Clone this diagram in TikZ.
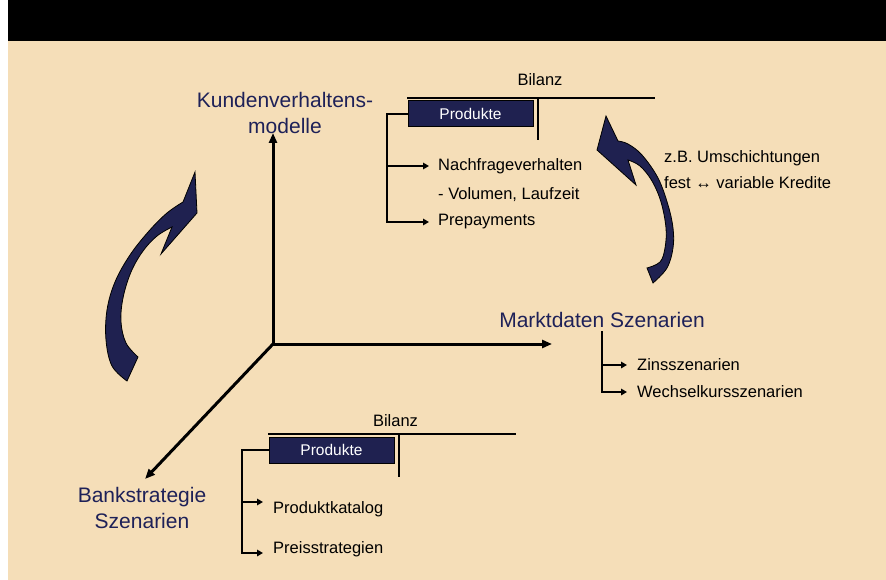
\documentclass[tikz,border=0pt]{standalone}
\usepackage{fontspec}
\setmainfont{Liberation Sans}
\usetikzlibrary{arrows.meta}
\definecolor{sand}{RGB}{245,222,184}
\definecolor{navy}{RGB}{31,33,80}
\definecolor{navytext}{RGB}{30,33,88}

\tikzset{
  axis/.style={line width=3pt,-{Triangle[length=10pt,width=8pt]}},
  branch/.style={line width=2pt,-{Triangle[length=6pt,width=6.5pt]}},
  tline/.style={line width=2.2pt},
  biglabel/.style={text=navytext,font=\fontsize{21}{26}\selectfont,align=center,inner sep=0pt},
  item/.style={font=\fontsize{16.5}{20}\selectfont,anchor=west,inner sep=0pt},
  prodbox/.style={fill=navy,draw=black,line width=1pt,text=white,
    font=\fontsize{15.5}{18}\selectfont,minimum width=125pt,minimum height=26pt,inner sep=0pt},
  swoosh/.style={fill=navy,draw=black,line width=0.8pt,line join=miter}
}

\begin{document}
\begin{tikzpicture}[x=1pt,y=-1pt]
  \useasboundingbox (0,0) rectangle (886,580);
  \fill[white] (0,0) rectangle (886,580);
  \fill[sand] (8,41) rectangle (886,580);
  \fill[black] (8,0) rectangle (886,41);

  % axes
  \coordinate (O) at (273,344);
  \coordinate (kend) at (273,133);
  \coordinate (mend) at (552,344);
  \coordinate (bend) at (145,479);
  \draw[axis] (O) -- (kend);
  \draw[axis] (O) -- (mend);
  \draw[axis] (O) -- (bend);

  \node[biglabel] (kunden) at (285,113) {Kundenverhaltens-\\modelle};
  \node[biglabel,anchor=base] (markt) at (602,327) {Marktdaten Szenarien};
  \node[biglabel] (bank) at (142,508) {Bankstrategie\\Szenarien};

  % Bilanz oben
  \node[item,anchor=base] (bil1) at (540,86) {Bilanz};
  \coordinate (t1l) at (407,98);
  \coordinate (t1r) at (655,98);
  \coordinate (t1m) at (538,98);
  \draw[tline] (t1l) -- (t1r);
  \draw[tline] (t1m) -- ++(0,42);
  \node[prodbox] (prod1) at (470.5,114) {Produkte};
  \node[item] (nach) at (438,166) {Nachfrageverhalten};
  \node[item] (vol) at (438,195) {- Volumen, Laufzeit};
  \node[item] (prep) at (438,222) {Prepayments};
  \draw[branch] (prod1.west) -- ++(-21,0) |- ([xshift=-9pt]nach.west);
  \draw[branch] (prod1.west) -- ++(-21,0) |- ([xshift=-9pt]prep.west);

  % Marktdaten
  \node[item] (zins) at (637,365) {Zinsszenarien};
  \node[item] (wech) at (637,392) {Wechselkursszenarien};
  \draw[branch] ([yshift=-4pt]markt.south) |- ([xshift=-10pt]zins.west);
  \draw[branch] ([yshift=-4pt]markt.south) |- ([xshift=-10pt]wech.west);

  % Bilanz unten
  \node[item,anchor=base] (bil2) at (395.5,426) {Bilanz};
  \coordinate (t2l) at (268,434);
  \coordinate (t2r) at (516,434);
  \coordinate (t2m) at (399,434);
  \draw[tline] (t2l) -- (t2r);
  \draw[tline] (t2m) -- ++(0,43);
  \node[prodbox] (prod2) at (331.5,450) {Produkte};
  \node[item] (katalog) at (273,509) {Produktkatalog};
  \node[item] (preis) at (273,549) {Preisstrategien};
  \draw[branch] (prod2.west) -- ++(-27,0) |- ([xshift=-10pt,yshift=7pt]katalog.west);
  \draw[branch] (prod2.west) -- ++(-27,0) |- ([xshift=-10pt,yshift=-4pt]preis.west);

  \node[item] (umsch) at (664,158) {z.B. Umschichtungen};
  \node[item] (fest) at (664,183) {fest ↔ variable Kredite};

  % geschwungene Pfeile
  \filldraw[swoosh] (195,172) -- (197,213) -- (161,254) -- (172,227)
    -- plot[smooth,tension=.6] coordinates {(172,227) (157,236) (143,251) (131,272) (123,298) (121,322) (126,343) (138,357)}
    -- (127,381)
    -- plot[smooth,tension=.6] coordinates {(127,381) (112,366) (106,340) (107,310) (115,282) (130,255) (149,231) (167,213) (183,202)}
    -- cycle;
  \filldraw[swoosh] (606,116) -- (597,150) -- (636,185) -- (628,160)
    -- plot[smooth,tension=.6] coordinates {(628,160) (640,166) (652,181) (661,202) (666,228) (665,248) (660,262) (647,268)}
    -- (653,283)
    -- plot[smooth,tension=.6] coordinates {(653,283) (667,268) (673,248) (673,228) (668,205) (658,178) (642,155) (628,144) (618,141)}
    -- cycle;
\end{tikzpicture}
\end{document}
